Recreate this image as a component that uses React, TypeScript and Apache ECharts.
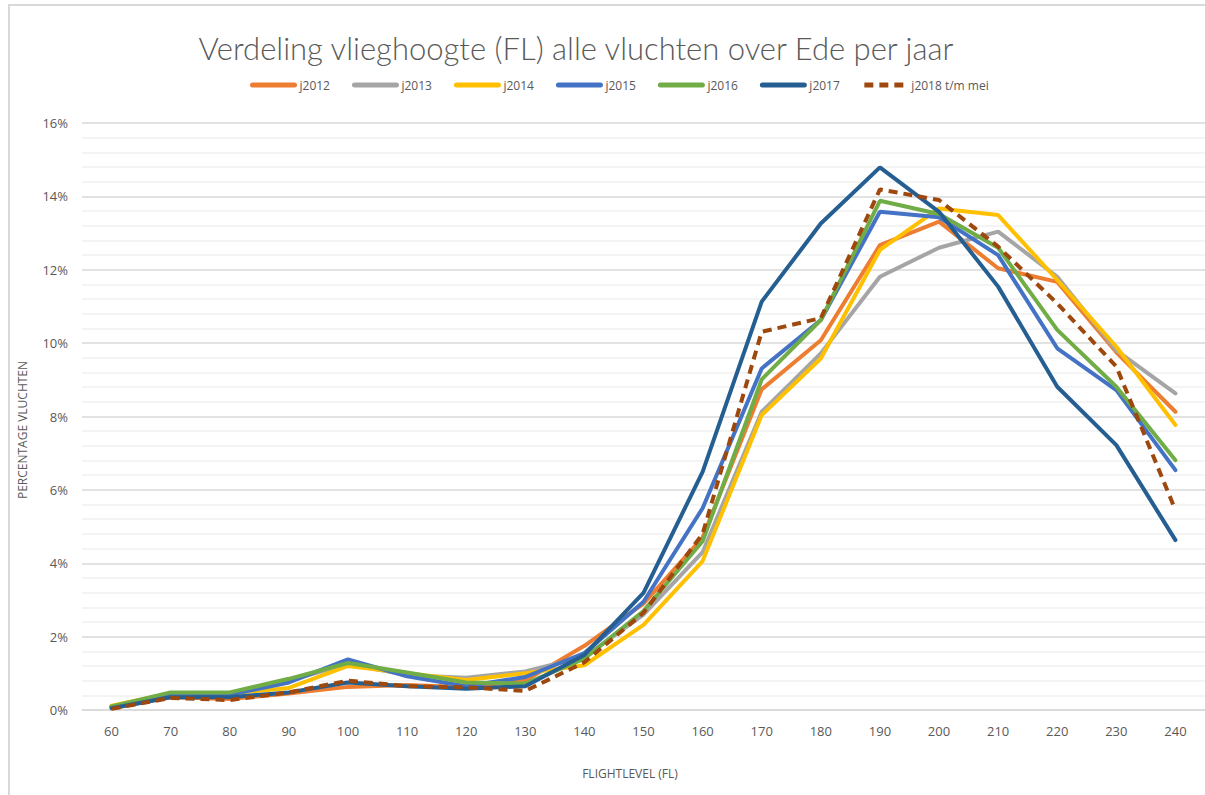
import React, { useEffect, useRef } from "react";
import * as echarts from "echarts";

const flightLevels = ["60","70","80","90","100","110","120","130","140","150","160","170","180","190","200","210","220","230","240"];

const j2012 = [0.05,0.35,0.30,0.45,0.63,0.68,0.62,0.80,1.75,2.90,4.70,8.74,10.08,12.67,13.31,12.04,11.67,9.75,8.13];
const j2013 = [0.10,0.45,0.45,0.80,1.25,0.95,0.88,1.05,1.45,2.60,4.30,8.13,9.72,11.81,12.60,13.04,11.81,9.80,8.63];
const j2014 = [0.12,0.45,0.45,0.60,1.20,1.00,0.82,1.00,1.22,2.32,4.06,8.04,9.58,12.54,13.67,13.49,11.72,9.90,7.77];
const j2015 = [0.08,0.45,0.42,0.75,1.38,0.92,0.65,0.90,1.55,2.95,5.50,9.31,10.63,13.58,13.43,12.40,9.86,8.72,6.54];
const j2016 = [0.10,0.48,0.48,0.85,1.28,1.02,0.75,0.72,1.40,2.70,4.60,9.01,10.63,13.88,13.52,12.60,10.36,8.81,6.81];
const j2017 = [0.05,0.35,0.35,0.48,0.75,0.65,0.58,0.65,1.50,3.19,6.49,11.13,13.26,14.79,13.58,11.54,8.81,7.22,4.63];
const j2018 = [0.03,0.33,0.27,0.48,0.80,0.65,0.62,0.52,1.30,2.65,4.80,10.31,10.68,14.19,13.90,12.63,11.08,9.36,5.45];

const seriesNames = ["j2012","j2013","j2014","j2015","j2016","j2017","j2018 t/m mei"];
const seriesData = [j2012, j2013, j2014, j2015, j2016, j2017, j2018];
const seriesColors = ["#ED7D31","#A5A5A5","#FFC000","#4472C4","#70AD47","#255E91","#9E480E"];

const titleText = "Verdeling vlieghoogte (FL) alle vluchten over Ede per jaar";
const yAxisTitle = "PERCENTAGE VLUCHTEN";
const xAxisTitle = "FLIGHTLEVEL (FL)";

const FONT = "'Open Sans', 'Noto Sans', sans-serif";
const GREY = "#595959";

export default function App() {
  const ref = useRef<HTMLDivElement>(null);
  useEffect(() => {
    if (!ref.current) return;
    const chart = echarts.init(ref.current, undefined, { renderer: "svg" });
    chart.setOption({
      animation: false,
      backgroundColor: "#ffffff",
      textStyle: { fontFamily: FONT },
      graphic: [
        {
          type: "rect",
          shape: { x: 9, y: 5, width: 1300, height: 900 },
          style: { fill: "none", stroke: "#d9d9d9", lineWidth: 2 },
          silent: true,
        },
        {
          type: "text",
          x: 576,
          y: 48,
          style: {
            text: titleText,
            fill: GREY,
            font: "300 31px Lato, 'Open Sans', sans-serif",
            textAlign: "center",
            textVerticalAlign: "middle",
          },
        },
        {
          type: "text",
          x: 22,
          y: 430,
          rotation: Math.PI / 2,
          style: {
            text: yAxisTitle,
            fill: GREY,
            font: "12px " + FONT,
            textAlign: "center",
            textVerticalAlign: "middle",
          },
        },
        {
          type: "text",
          x: 630,
          y: 773,
          style: {
            text: xAxisTitle,
            fill: GREY,
            font: "12px " + FONT,
            textAlign: "center",
            textVerticalAlign: "middle",
          },
        },
      ],
      legend: {
        top: 74,
        left: 245,
        itemWidth: 42,
        itemHeight: 14,
        itemGap: 22,
        itemStyle: { opacity: 0 },
        lineStyle: { width: 5 },
        textStyle: { color: GREY, fontSize: 12, fontFamily: FONT },
        data: seriesNames,
      },
      grid: { left: 82, top: 123, width: 1125, height: 587, containLabel: false },
      xAxis: {
        type: "category",
        data: flightLevels,
        boundaryGap: true,
        axisLine: { lineStyle: { color: "#d9d9d9", width: 1.5 } },
        axisTick: { show: false },
        axisLabel: { color: GREY, fontSize: 13, margin: 14, fontFamily: FONT },
      },
      yAxis: {
        type: "value",
        min: 0,
        max: 16,
        interval: 2,
        axisLine: { show: false },
        axisTick: { show: false },
        axisLabel: { color: GREY, fontSize: 13, margin: 14, formatter: "{value}%", fontFamily: FONT },
        splitLine: { lineStyle: { color: "#d9d9d9", width: 1.5 } },
        minorTick: { show: false, splitNumber: 5 },
        minorSplitLine: { show: true, lineStyle: { color: "#f0f0f0", width: 1.5 } },
      },
      series: seriesNames.map((name, i) => ({
        name,
        type: "line",
        data: seriesData[i],
        symbol: "none",
        color: seriesColors[i],
        lineStyle: {
          color: seriesColors[i],
          width: 4,
          type: i === 6 ? [9, 6] : "solid",
          cap: i === 6 ? "butt" : "round",
        },
        z: 2 + i,
      })),
    });
    return () => chart.dispose();
  }, []);
  return (
    <div
      ref={ref}
      style={{ position: "fixed", left: 0, top: 0, width: 1205, height: 795 }}
    />
  );
}
